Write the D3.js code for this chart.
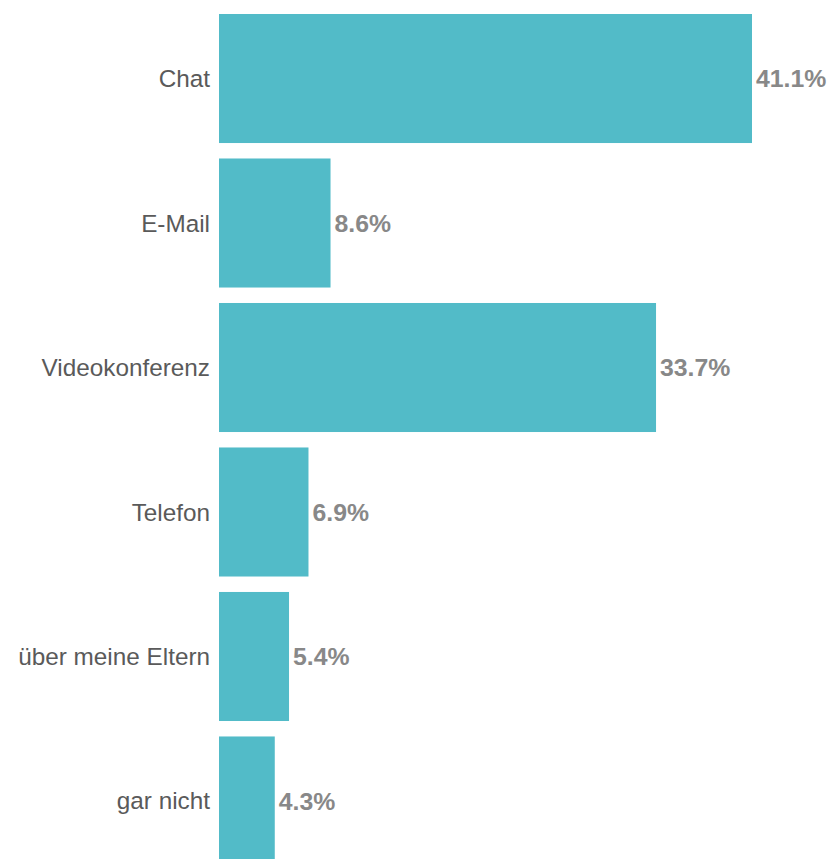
<!DOCTYPE html>
<html>
<head>
<meta charset="utf-8">
<script src="https://cdn.jsdelivr.net/npm/d3@7"></script>
<style>
  body { margin: 0; background: #fff; }
  svg { display: block; }
</style>
</head>
<body>
<script>
const categories = ['Chat', 'E-Mail', 'Videokonferenz', 'Telefon', 'über meine Eltern', 'gar nicht']
const values = [41.1, 8.6, 33.7, 6.9, 5.4, 4.3]

const w = 833
const h = 859
const left = 219

const svg = d3.select('body').append('svg')
  .attr('width', w)
  .attr('height', h)

const x = d3.scaleLinear().domain([0, 41.1]).range([left, 752])
const y = d3.scaleBand().domain(categories).range([14, 865.5]).paddingInner(0.107).paddingOuter(0)

const data = categories.map((c, i) => ({ name: c, value: values[i] }))

svg.selectAll('rect.bar')
  .data(data)
  .enter()
  .append('rect')
  .attr('class', 'bar')
  .attr('x', x(0))
  .attr('y', d => y(d.name))
  .attr('width', d => x(d.value) - x(0))
  .attr('height', y.bandwidth())
  .attr('fill', '#52bbc8')

// category labels
svg.selectAll('text.cat')
  .data(data)
  .enter()
  .append('text')
  .attr('class', 'cat')
  .attr('x', left - 9)
  .attr('y', d => y(d.name) + y.bandwidth() / 2)
  .attr('dy', '0.35em')
  .attr('text-anchor', 'end')
  .style('font-family', '"Liberation Sans", Arial, sans-serif')
  .style('font-size', '24.3px')
  .attr('fill', '#5a5a5a')
  .text(d => d.name)

// value labels
svg.selectAll('text.val')
  .data(data)
  .enter()
  .append('text')
  .attr('class', 'val')
  .attr('x', d => x(d.value) + 4)
  .attr('y', d => y(d.name) + y.bandwidth() / 2)
  .attr('dy', '0.35em')
  .style('font-family', '"Liberation Sans", Arial, sans-serif')
  .style('font-size', '24.8px')
  .style('font-weight', 'bold')
  .attr('fill', '#888')
  .text(d => d.value.toFixed(1) + '%')
</script>
</body>
</html>
